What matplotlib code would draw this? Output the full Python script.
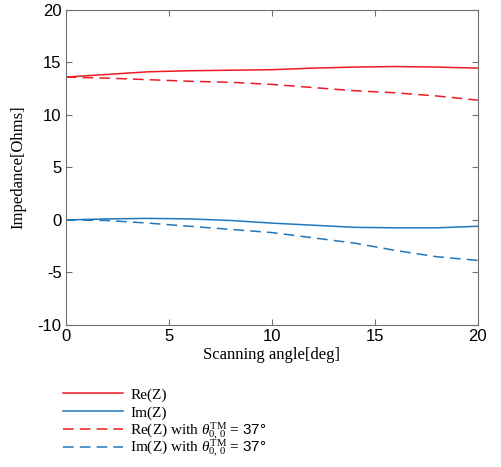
import numpy as np
import matplotlib.pyplot as plt

plt.rcParams['mathtext.fontset'] = 'custom'
plt.rcParams['mathtext.rm'] = 'Liberation Serif'
plt.rcParams['mathtext.it'] = 'Liberation Serif:italic'
plt.rcParams['mathtext.sf'] = 'Liberation Sans'
plt.rcParams['axes.unicode_minus'] = False

# values
angle = [0, 2, 4, 6, 8, 10, 12, 14, 16, 18, 20]
re_z = [13.6, 13.85, 14.1, 14.2, 14.25, 14.3, 14.45, 14.55, 14.6, 14.55, 14.45]
im_z = [0.0, 0.1, 0.15, 0.1, -0.05, -0.3, -0.5, -0.7, -0.75, -0.75, -0.6]
re_z37 = [13.6, 13.5, 13.35, 13.2, 13.1, 12.9, 12.6, 12.3, 12.1, 11.8, 11.4]
im_z37 = [0.0, -0.05, -0.3, -0.6, -0.9, -1.2, -1.7, -2.2, -2.9, -3.5, -3.85]

red = '#ec1c24'
blue = '#1f78bd'
dash = (0, (7, 4))

fig = plt.figure(figsize=(5.02, 4.67), dpi=100)
ax = fig.add_axes([0.131, 0.304, 0.821, 0.675])

h1, = ax.plot(angle, re_z, color=red, lw=1.1)
h2, = ax.plot(angle, im_z, color=blue, lw=1.1)
h3, = ax.plot(angle, re_z37, color=red, lw=1.1, ls=dash)
h4, = ax.plot(angle, im_z37, color=blue, lw=1.1, ls=dash)

ax.set_xlim(0, 20)
ax.set_ylim(-10, 20)
ax.set_xticks([0, 5, 10, 15, 20])
ax.set_yticks([-10, -5, 0, 5, 10, 15, 20])
ax.tick_params(direction='in', length=4, color='#707070', labelsize=12,
               top=True, right=True, pad=3)
for lab in ax.get_xticklabels() + ax.get_yticklabels():
    lab.set_family('Liberation Sans')
for s in ax.spines.values():
    s.set_color('#707070')

ax.set_xlabel('Scanning angle[deg]', family='Liberation Serif', fontsize=12, labelpad=2)
ax.set_ylabel('Impedance[Ohms]', family='Liberation Serif', fontsize=12, labelpad=8)

labels = ['Re(Z)', 'Im(Z)',
          r'Re(Z) with $\theta_{0,\,0}^{\mathrm{TM}}$ = $\mathsf{37°}$',
          r'Im(Z) with $\theta_{0,\,0}^{\mathrm{TM}}$ = $\mathsf{37°}$']
rows = [0.154, 0.116, 0.077, 0.040]
for h, lab, yy in zip([h1, h2, h3, h4], labels, rows):
    fig.legend([h], [lab], loc='center left', bbox_to_anchor=(0.126, yy),
               frameon=False, prop={'family': 'Liberation Serif', 'size': 11},
               handlelength=3.9, handletextpad=0.5, borderaxespad=0,
               borderpad=0)

fig.savefig('out.png', dpi=100)
